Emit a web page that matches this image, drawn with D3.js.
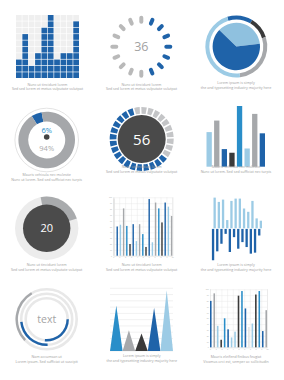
<!DOCTYPE html>
<html>
<head>
<meta charset="utf-8">
<script src="https://cdn.jsdelivr.net/npm/d3@7"></script>
<style>
  html, body { margin: 0; padding: 0; background: #fff; }
  svg { display: block; font-family: "Open Sans", sans-serif; }
</style>
</head>
<body>
<svg id="chart" width="284" height="380"></svg>
<script>
// ---- data ----
const gridValues = [3, 7, 2, 4, 8, 10, 3, 4, 4, 9];
const gridRows = 10;
const spinnerDashes = 16;
const spinnerActive = 7;
const spinnerLabel = '36';
const ringValues = [48, 41, 101, 170];
const pieValues = [36, 64];
const donutValues = [6, 94];
const donutLabels = ['6%', '94%'];
const segmentCount = 28;
const segmentActive = 17;
const segmentLabel = '56';
const barValues = [57, 76, 29, 23, 100, 30, 87, 55];
const sliceValue = 20;
const sliceLabel = '20';
const groupedA = [98, 50, 53, 81, 51, 20, 54, 25, 54, 37, 15, 97, 23, 91, 81, 57, 91, 84, 68];
const groupedAKeys = ['pale', 'blue', 'light', 'gray', 'mid', 'dark', 'blue', 'light', 'gray', 'mid', 'dark', 'blue', 'light', 'gray', 'mid', 'dark', 'blue', 'light', 'gray'];
const divUp = [93, 80, 87, 25, 83, 90, 90, 60, 50, 83, 30, 23];
const divDown = [95, 68, 45, 15, 70, 25, 60, 40, 55, 75, 72, 20];
const arcLabel = 'text';
const triangleValues = [72, 33, 28, 69, 97];
const groupedB = [80, 93, 37, 13, 50, 31, 17, 27, 89, 97, 67, 35, 41, 91, 97, 28, 64];
const groupedBKeys = ['blue', 'gray', 'light', 'dark', 'mid', 'blue', 'light', 'light', 'dark', 'mid', 'blue', 'pale', 'light', 'dark', 'mid', 'blue', 'gray'];
const axisTicks = [0, 10, 20, 30, 40, 50, 60, 70, 80, 90, 100];
const captions = [
  ['Nunc ut tincidunt lorem', 'Sed sed lorem et metus vulputate volutpat'],
  ['Nunc ut tincidunt lorem', 'Sed sed lorem et metus vulputate volutpat'],
  ['Lorem ipsum is simply', 'the  and typesetting industry majority here'],
  ['Mauris vehicula nec molestie', 'Nunc ut lorem. Sed sed sufficiat nec turpis'],
  ['Nunc ut tincidunt lorem', 'Sed sed lorem et metus vulputate volutpat'],
  ['Mauris vehicula nec molestie', 'Nunc ut lorem. Sed sed sufficiat nec turpis'],
  ['Nunc ut tincidunt lorem', 'Sed sed lorem et metus vulputate volutpat'],
  ['Nunc ut tincidunt lorem', 'Sed sed lorem et metus vulputate volutpat'],
  ['Lorem ipsum is simply', 'the  and typesetting industry majority here'],
  ['Nam accumsan ut', 'Lorem ipsum. Sed sufficiat ut suscipit'],
  ['Lorem ipsum is simply', 'the  and typesetting industry majority here'],
  ['Mauris eleifend finibus feugiat', 'Vivamus orci est, semper ac sollicitudin']
];

// ---- colours ----
const C = {
  blue: '#1f63a9',
  mid: '#2a8ec9',
  light: '#9ccbe5',
  gray: '#a6a8ab',
  dark: '#3a3a3a',
  pale: '#e2e2e2'
};
const deg = Math.PI / 180;

const svg = d3.select('#chart');

function caption(cx, y, lines) {
  svg.append('g').selectAll('text')
    .data(lines)
    .join('text')
    .attr('x', cx)
    .attr('y', (d, i) => y + i * 4.6)
    .attr('text-anchor', 'middle')
    .attr('font-size', 3.6)
    .attr('fill', '#9d9d9d')
    .text(d => d);
}

// 1. square grid
{
  const x = d3.scaleBand().domain(d3.range(gridValues.length)).range([16, 79]).paddingInner(0.1);
  const y = d3.scaleBand().domain(d3.range(gridRows)).range([78, 15]).paddingInner(0.1);
  const cells = [];
  gridValues.forEach((v, c) => d3.range(gridRows).forEach(r => cells.push({ c, r, on: r < v })));
  svg.append('g').selectAll('rect')
    .data(cells)
    .join('rect')
    .attr('x', d => x(d.c))
    .attr('y', d => y(d.r))
    .attr('width', x.bandwidth())
    .attr('height', y.bandwidth())
    .attr('fill', d => d.on ? C.blue : '#efefef');
  caption(47.5, 85.5, captions[0]);
}

// 2. spinner
{
  const cx = 141.3, cy = 46.7;
  const a = d3.scaleLinear().domain([0, spinnerDashes]).range([0, 2 * Math.PI]);
  svg.append('g').selectAll('line')
    .data(d3.range(spinnerDashes))
    .join('line')
    .attr('x1', i => cx + 25 * Math.sin(a(i)))
    .attr('y1', i => cy - 25 * Math.cos(a(i)))
    .attr('x2', i => cx + 29 * Math.sin(a(i)))
    .attr('y2', i => cy - 29 * Math.cos(a(i)))
    .attr('stroke', i => (i >= 1 && i <= spinnerActive) ? C.blue : '#b9b9b9')
    .attr('stroke-width', 4)
    .attr('stroke-linecap', 'round');
  svg.append('text')
    .attr('x', cx).attr('y', cy + 4.3)
    .attr('text-anchor', 'middle')
    .attr('font-size', 12.5)
    .attr('fill', '#a2a2a2')
    .text(spinnerLabel);
  caption(141.5, 85.5, captions[1]);
}

// 3. ring + pie
{
  const g = svg.append('g').attr('transform', 'translate(236.3,46.5)');
  const ringPie = d3.pie().sort(null).startAngle(-17 * deg).endAngle(343 * deg);
  const ringArc = d3.arc().innerRadius(27).outerRadius(31);
  const ringColors = [C.blue, C.dark, C.gray, C.light];
  g.selectAll('path.ring')
    .data(ringPie(ringValues))
    .join('path')
    .attr('class', 'ring')
    .attr('d', ringArc)
    .attr('fill', (d, i) => ringColors[i]);
  const inner = d3.pie().sort(null).startAngle(-46 * deg).endAngle(314 * deg);
  const innerArc = d3.arc().innerRadius(0).outerRadius(23.7);
  const innerColors = ['#8fc1df', C.blue];
  g.selectAll('path.pie')
    .data(inner(pieValues))
    .join('path')
    .attr('class', 'pie')
    .attr('d', innerArc)
    .attr('fill', (d, i) => innerColors[i]);
  caption(236, 84, captions[2]);
}

// 4. donut with outline
{
  const g = svg.append('g').attr('transform', 'translate(46.7,140)');
  g.append('circle').attr('r', 31.8).attr('fill', 'none').attr('stroke', '#dcdcdc').attr('stroke-width', 0.8);
  const pie = d3.pie().sort(null).startAngle(-32 * deg).endAngle(328 * deg);
  const arc = d3.arc().innerRadius(18.5).outerRadius(28.3);
  g.selectAll('path')
    .data(pie(donutValues))
    .join('path')
    .attr('d', arc)
    .attr('fill', (d, i) => i === 0 ? C.blue : '#a5a7aa');
  g.append('text').attr('y', -7).attr('text-anchor', 'middle')
    .attr('font-size', 7.5).attr('fill', C.mid).text(donutLabels[0]);
  g.append('circle').attr('cy', -3).attr('r', 2.8).attr('fill', '#444');
  g.append('text').attr('y', 10.5).attr('text-anchor', 'middle')
    .attr('font-size', 7.5).attr('fill', '#aaaaaa').text(donutLabels[1]);
  caption(46.7, 176, captions[3]);
}

// 5. segmented ring
{
  const g = svg.append('g').attr('transform', 'translate(141.7,139)');
  const pie = d3.pie().value(1).sort(null).startAngle(-15 * deg).endAngle(345 * deg).padAngle(0.04);
  const arc = d3.arc().innerRadius(25.3).outerRadius(32);
  const segs = d3.range(segmentCount);
  g.selectAll('path')
    .data(pie(segs))
    .join('path')
    .attr('d', arc)
    .attr('fill', (d, i) => i < segmentCount - segmentActive ? '#c4c5c7' : C.blue);
  g.append('circle').attr('r', 24).attr('fill', '#4a4a4a');
  g.append('text').attr('y', 5.5).attr('text-anchor', 'middle')
    .attr('font-size', 15).attr('fill', '#fff').text(segmentLabel);
  caption(141.7, 168, captions[4]);
}

// 6. bar chart
{
  const x = d3.scaleBand().domain(d3.range(barValues.length)).range([206.5, 265]).paddingInner(0.3);
  const y = d3.scaleLinear().domain([0, 100]).range([166.7, 106]);
  const colors = [C.light, C.gray, C.blue, C.dark, C.mid, C.light, C.gray, C.blue];
  svg.append('g').selectAll('rect')
    .data(barValues)
    .join('rect')
    .attr('x', (d, i) => x(i))
    .attr('y', d => y(d))
    .attr('width', x.bandwidth())
    .attr('height', d => y(0) - y(d))
    .attr('fill', (d, i) => colors[i]);
  caption(236, 168, captions[5]);
}

// 7. slice circle
{
  const g = svg.append('g').attr('transform', 'translate(46.7,228.3)');
  g.append('circle').attr('r', 31.7).attr('fill', '#ececec');
  const start = -11 * deg;
  g.append('path')
    .attr('d', d3.arc().innerRadius(0).outerRadius(31.7)
      .startAngle(start).endAngle(start + sliceValue / 100 * 2 * Math.PI * 1.15)())
    .attr('fill', '#a9abad');
  g.append('circle').attr('r', 23.7).attr('fill', '#4b4b4b');
  g.append('text').attr('y', 4).attr('text-anchor', 'middle')
    .attr('font-size', 11).attr('fill', '#fff').text(sliceLabel);
  caption(46.7, 266, captions[6]);
}

// grid bar helper
function gridBars(values, keys, x0, x1, y0, y1) {
  const g = svg.append('g');
  const x = d3.scaleBand().domain(d3.range(values.length)).range([x0, x1]).paddingInner(0.55);
  const y = d3.scaleLinear().domain([0, 100]).range([y1, y0]);
  const xt = d3.scaleLinear().domain([0, 10]).range([x0, x1]);
  g.append('g')
    .attr('transform', `translate(${x0},0)`)
    .call(d3.axisLeft(y).tickValues(axisTicks).tickSize(-(x1 - x0)).tickFormat(d => d))
    .call(a => a.select('.domain').remove())
    .call(a => a.selectAll('line').attr('stroke', '#e6e6e6').attr('stroke-width', 0.4))
    .call(a => a.selectAll('text').attr('font-size', 1.8).attr('fill', '#aaa').attr('x', -1.2));
  g.append('g')
    .attr('transform', `translate(0,${y1})`)
    .call(d3.axisBottom(xt).ticks(10).tickSize(-(y1 - y0)).tickFormat(d => d))
    .call(a => a.select('.domain').attr('stroke', '#d5d5d5').attr('stroke-width', 0.4))
    .call(a => a.selectAll('line').attr('stroke', '#e6e6e6').attr('stroke-width', 0.4))
    .call(a => a.selectAll('text').attr('font-size', 1.8).attr('fill', '#aaa').attr('y', 1.5));
  g.append('g').selectAll('rect')
    .data(values)
    .join('rect')
    .attr('x', (d, i) => x(i))
    .attr('y', d => y(d))
    .attr('width', x.bandwidth())
    .attr('height', d => y(0) - y(d))
    .attr('fill', (d, i) => C[keys[i]]);
}

// 8. grouped bars with grid
gridBars(groupedA, groupedAKeys, 113.3, 172.3, 197.3, 255.7);
caption(141.7, 266, captions[7]);

// 9. diverging bars
{
  const x = d3.scaleBand().domain(d3.range(divUp.length)).range([212.5, 261]).paddingInner(0.45);
  const y = d3.scaleLinear().domain([0, 100]).range([0, 33]);
  const base = 228.3;
  svg.append('g').selectAll('rect')
    .data(divUp)
    .join('rect')
    .attr('x', (d, i) => x(i) + 1)
    .attr('y', d => base - y(d))
    .attr('width', x.bandwidth())
    .attr('height', d => y(d))
    .attr('fill', C.light);
  svg.append('g').selectAll('rect')
    .data(divDown)
    .join('rect')
    .attr('x', (d, i) => x(i) - 0.6)
    .attr('y', base + 0.6)
    .attr('width', x.bandwidth())
    .attr('height', d => y(d))
    .attr('fill', C.blue);
  caption(236, 266, captions[8]);
}

// 10. concentric arcs
{
  const g = svg.append('g').attr('transform', 'translate(46.7,319.3)');
  [30, 25.5, 21].forEach(r => {
    g.append('circle').attr('r', r).attr('fill', 'none').attr('stroke', '#e8e8e8').attr('stroke-width', 2.6);
  });
  const arc = d3.arc();
  g.append('path')
    .attr('d', arc({ innerRadius: 28.8, outerRadius: 31.2, startAngle: 226 * deg, endAngle: 330 * deg }))
    .attr('fill', C.gray);
  g.append('path')
    .attr('d', arc({ innerRadius: 19.8, outerRadius: 22.2, startAngle: 90 * deg, endAngle: 185 * deg }))
    .attr('fill', C.blue);
  g.append('path')
    .attr('d', arc({ innerRadius: 24.3, outerRadius: 26.7, startAngle: 178 * deg, endAngle: 264 * deg }))
    .attr('fill', C.blue);
  g.append('text').attr('y', 3.5).attr('text-anchor', 'middle')
    .attr('font-size', 10.5).attr('fill', '#a4a4a4').text(arcLabel);
  caption(46.7, 358, captions[9]);
}

// 11. triangles
{
  const x = d3.scaleBand().domain(d3.range(triangleValues.length)).range([110, 173]);
  const y = d3.scaleLinear().domain([0, 100]).range([351, 288.3]);
  svg.append('g').selectAll('line')
    .data(axisTicks)
    .join('line')
    .attr('x1', 110).attr('x2', 173)
    .attr('y1', d => y(d)).attr('y2', d => y(d))
    .attr('stroke', '#e3e3e3').attr('stroke-width', 0.5);
  const colors = [C.mid, C.gray, C.dark, C.blue, C.light];
  svg.append('g').selectAll('path')
    .data(triangleValues)
    .join('path')
    .attr('d', (d, i) => `M${x(i)},${y(0)}L${x(i) + x.bandwidth() / 2},${y(d)}L${x(i) + x.bandwidth()},${y(0)}Z`)
    .attr('fill', (d, i) => colors[i]);
  caption(141.7, 357, captions[10]);
}

// 12. grouped bars with grid
gridBars(groupedB, groupedBKeys, 210, 267, 289.3, 347.3);
caption(236, 358, captions[11]);
</script>
</body>
</html>
